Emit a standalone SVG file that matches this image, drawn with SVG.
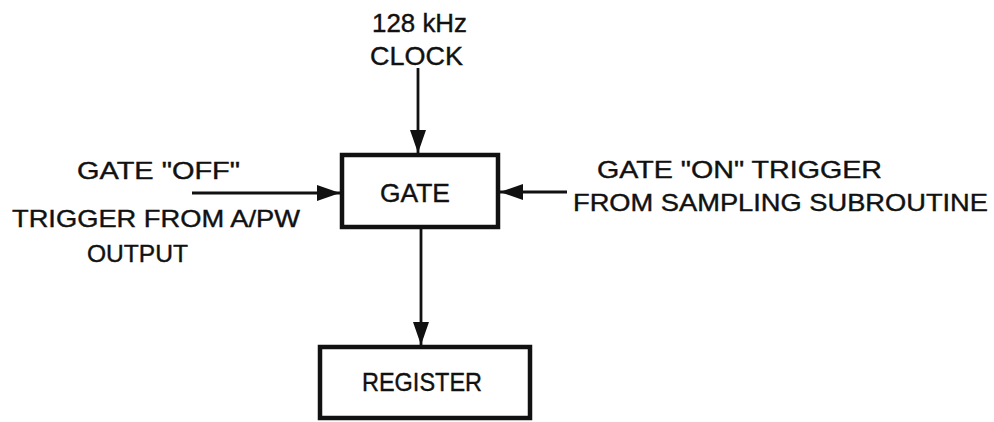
<svg xmlns="http://www.w3.org/2000/svg" width="994" height="422" viewBox="0 0 994 422">
<style>
text{font-family:"Liberation Sans",Arial,sans-serif;fill:#111;stroke:#111;stroke-width:0.4;}
.lbl{font-size:24px;}
.big{font-size:26px;}
.box{fill:#fff;stroke:#111;stroke-width:4.5;}
.wire{stroke:#111;stroke-width:2.8;fill:none;}
</style>
<defs>
<marker id="ah" markerUnits="userSpaceOnUse" markerWidth="24" markerHeight="18" refX="23" refY="9" orient="auto">
<path d="M0,1 L23,9 L0,17 Z" fill="#111"/>
</marker>
</defs>
<rect width="994" height="422" fill="#fff"/>
<g id="connectors">
<line class="wire" x1="418" y1="68" x2="418" y2="153" marker-end="url(#ah)"/>
<line class="wire" x1="192" y1="193" x2="340" y2="193" marker-end="url(#ah)"/>
<line class="wire" x1="567" y1="192" x2="500" y2="192" marker-end="url(#ah)"/>
<line class="wire" x1="421" y1="229" x2="421" y2="345" marker-end="url(#ah)"/>
</g>
<g id="gate">
<rect class="box" x="342" y="155" width="156" height="72"/>
<text class="big" x="380" y="202" font-size="27" textLength="70" lengthAdjust="spacingAndGlyphs">GATE</text>
</g>
<g id="register">
<rect class="box" x="320" y="347" width="210" height="71"/>
<text class="big" x="362" y="391" font-size="28" textLength="120" lengthAdjust="spacingAndGlyphs">REGISTER</text>
</g>
<g id="clock">
<text class="big" x="372" y="32" textLength="95" lengthAdjust="spacingAndGlyphs">128 kHz</text>
<text class="big" x="370" y="65" textLength="93" lengthAdjust="spacingAndGlyphs">CLOCK</text>
</g>
<g id="gate-off">
<text class="lbl" x="77" y="179" textLength="163" lengthAdjust="spacingAndGlyphs">GATE "OFF"</text>
<text class="lbl" x="12" y="227" textLength="288" lengthAdjust="spacingAndGlyphs">TRIGGER FROM A/PW</text>
<text class="lbl" x="87" y="262" textLength="101" lengthAdjust="spacingAndGlyphs">OUTPUT</text>
</g>
<g id="gate-on">
<text class="lbl" x="597" y="178" textLength="285" lengthAdjust="spacingAndGlyphs">GATE "ON" TRIGGER</text>
<text class="lbl" x="573" y="211" textLength="415" lengthAdjust="spacingAndGlyphs">FROM SAMPLING SUBROUTINE</text>
</g>
</svg>
